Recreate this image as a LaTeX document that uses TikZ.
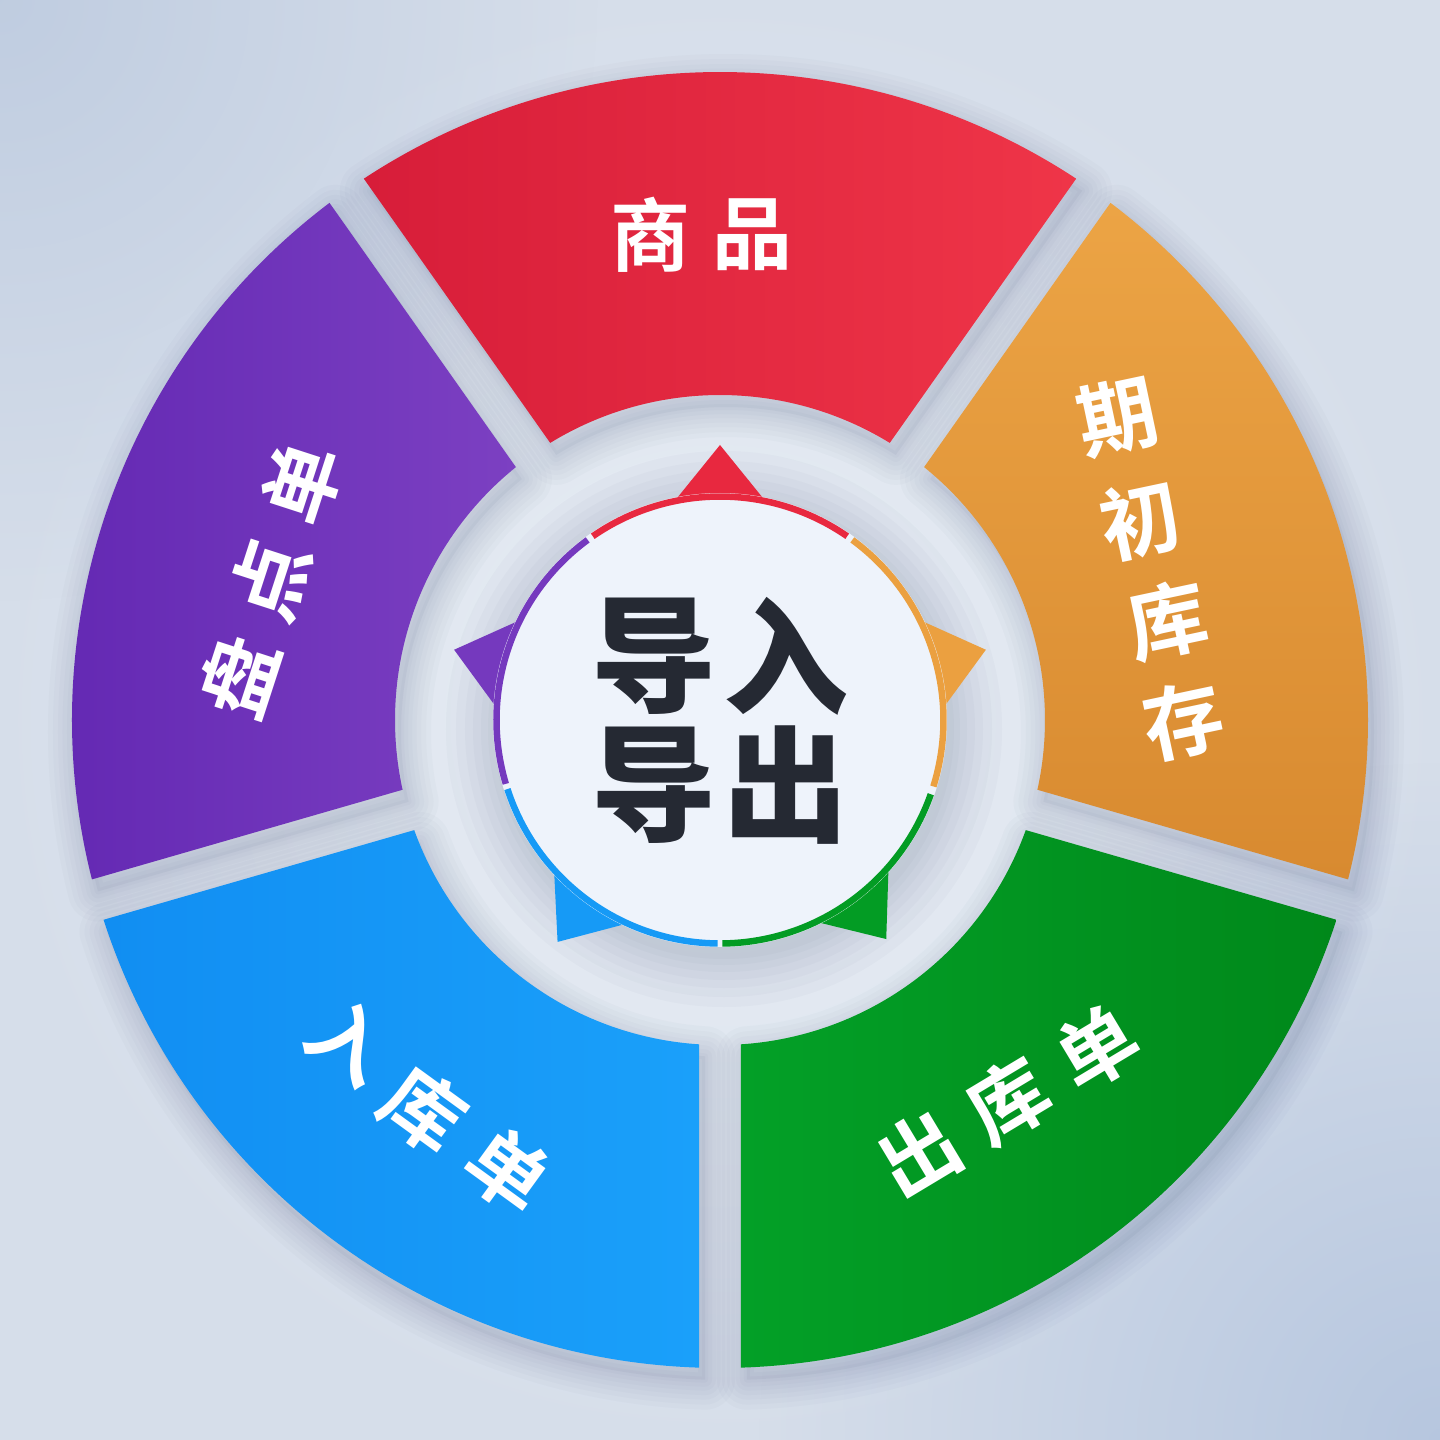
\documentclass[tikz,border=0pt]{standalone}
\usepackage{fontspec}
\usetikzlibrary{fadings,calc}
\newfontfamily\cjk{Noto Sans CJK SC}[BoldFont={Noto Sans CJK SC Bold}]
\newfontfamily\cjkblack{Noto Sans CJK SC Black}
\definecolor{bgC}{HTML}{EAEFF6}
\definecolor{bgE}{HTML}{D6DEEA}
\definecolor{bgDarkA}{HTML}{BCCADF}
\definecolor{bgDarkB}{HTML}{B3C4DE}
\definecolor{shadowcol}{HTML}{34466A}
\definecolor{redA}{HTML}{D71D39}
\definecolor{redB}{HTML}{EF3548}
\definecolor{redS}{HTML}{E8283F}
\definecolor{orangeA}{HTML}{ECA445}
\definecolor{orangeB}{HTML}{D88A30}
\definecolor{orangeS}{HTML}{EBA040}
\definecolor{greenA}{HTML}{03A027}
\definecolor{greenB}{HTML}{00881A}
\definecolor{greenS}{HTML}{039C24}
\definecolor{blueA}{HTML}{118EF2}
\definecolor{blueB}{HTML}{1AA0FA}
\definecolor{blueS}{HTML}{169AF6}
\definecolor{purpleA}{HTML}{6227B2}
\definecolor{purpleB}{HTML}{7C40C2}
\definecolor{purpleS}{HTML}{7539BE}
\definecolor{hubfill}{HTML}{EEF3FB}
\definecolor{inkdark}{HTML}{252933}
\tikzfading[name=softblob, inner color=transparent!0, outer color=transparent!100]
% annular sector between boundary angles #1 < #2, gap half-width 21
\newcommand\segshape[2]{(#1+1.857:648pt) arc[start angle=#1+1.857, end angle=#2-1.857, radius=648pt] -- (#2-3.705:325pt) arc[start angle=#2-3.705, end angle=#1+3.705, radius=325pt] -- cycle}
\newcommand\softshadow[2]{%
  \foreach \w in {60,50,40,31,22,14,6}{\draw[shadowcol, draw opacity=0.024, line width=\w pt, line join=round, xshift=6pt, yshift=-12pt] \segshape{#1}{#2};}%
  \fill[shadowcol, fill opacity=0.05, xshift=6pt, yshift=-12pt] \segshape{#1}{#2};}
\newcommand\spike[2]{\fill[#2] (#1:275pt) -- ($(#1:275pt)+(#1+141:100pt)$) -- ($(#1:275pt)+(#1-141:100pt)$) -- cycle;}
\tikzset{
  seglabel/.style={text=white, font=\cjk\bfseries\fontsize{80pt}{80pt}\selectfont, inner sep=0pt},
  hubchar/.style={text=inkdark, font=\cjkblack\fontsize{125pt}{125pt}\selectfont, inner sep=0pt},
  rim/.style={line width=6.5pt},
}
\begin{document}
\begin{tikzpicture}[x=1pt,y=1pt]
\useasboundingbox (-720,-720) rectangle (720,720);
% background
\shade[inner color=bgC, outer color=bgE] (-720,-720) rectangle (720,720);
\fill[bgDarkA, path fading=softblob, fill opacity=0.85] (-720,720) circle (600pt);
\fill[bgDarkB, path fading=softblob, fill opacity=0.9] (720,-720) circle (680pt);
% shadows of segments
\softshadow{54.8}{125.2}
\softshadow{-16.1}{54.8}
\softshadow{-90}{-16.1}
\softshadow{-163.9}{-90}
\softshadow{125.2}{196.1}
% segments
\path[left color=redA, right color=redB] \segshape{54.8}{125.2};
\path[top color=orangeA, bottom color=orangeB] \segshape{-16.1}{54.8};
\path[left color=greenA, right color=greenB] \segshape{-90}{-16.1};
\path[left color=blueA, right color=blueB] \segshape{-163.9}{-90};
\path[left color=purpleA, right color=purpleB] \segshape{125.2}{196.1};
% hub shadow
\foreach \r in {278,268,259,251,243,236,230}{\fill[shadowcol, fill opacity=0.027] (4,-9) circle (\r pt);}
% spikes
\spike{90}{redS}
\spike{14.8}{orangeS}
\spike{-52.8}{greenS}
\spike{-126.2}{blueS}
\spike{165.2}{purpleS}
% hub
\node[circle, fill=hubfill, minimum size=454pt, inner sep=0pt] (hub) at (0,0) {};
\draw[rim, redS] (55.3:223.5pt) arc[start angle=55.3, end angle=124.7, radius=223.5pt];
\draw[rim, orangeS] (-17.3:223.5pt) arc[start angle=-17.3, end angle=53.7, radius=223.5pt];
\draw[rim, greenS] (-89.4:223.5pt) arc[start angle=-89.4, end angle=-19.4, radius=223.5pt];
\draw[rim, blueS] (-162:223.5pt) arc[start angle=-162, end angle=-90.6, radius=223.5pt];
\draw[rim, purpleS] (126.3:223.5pt) arc[start angle=126.3, end angle=196.6, radius=223.5pt];
% hub text
\node[hubchar] (d1) at (-66,64) {导};
\node[hubchar] (r1) at (66,64) {入};
\node[hubchar] (d2) at (-66,-65) {导};
\node[hubchar] (c2) at (66,-65) {出};
% segment labels
\node[seglabel] (g1) at (-69,485) {商};
\node[seglabel] (g2) at (32,485) {品};
\node[seglabel, rotate=12] (q1) at (397,303) {期};
\node[seglabel, rotate=12] (q2) at (420,200) {初};
\node[seglabel, rotate=12] (q3) at (447,100) {库};
\node[seglabel, rotate=12] (q4) at (463,0) {存};
\node[seglabel, rotate=31] (o1) at (199.3,-434.3) {出};
\node[seglabel, rotate=31] (o2) at (288,-381) {库};
\node[seglabel, rotate=31] (o3) at (376.7,-327.7) {单};
\node[seglabel, rotate=-36] (i1) at (-370,-321) {入};
\node[seglabel, rotate=-36] (i2) at (-296,-389) {库};
\node[seglabel, rotate=-36] (i3) at (-212,-450) {单};
\node[seglabel, rotate=72] (p1) at (-481.5,43) {盘};
\node[seglabel, rotate=72] (p2) at (-450,140) {点};
\node[seglabel, rotate=72] (p3) at (-418.5,237) {单};
\end{tikzpicture}
\end{document}
